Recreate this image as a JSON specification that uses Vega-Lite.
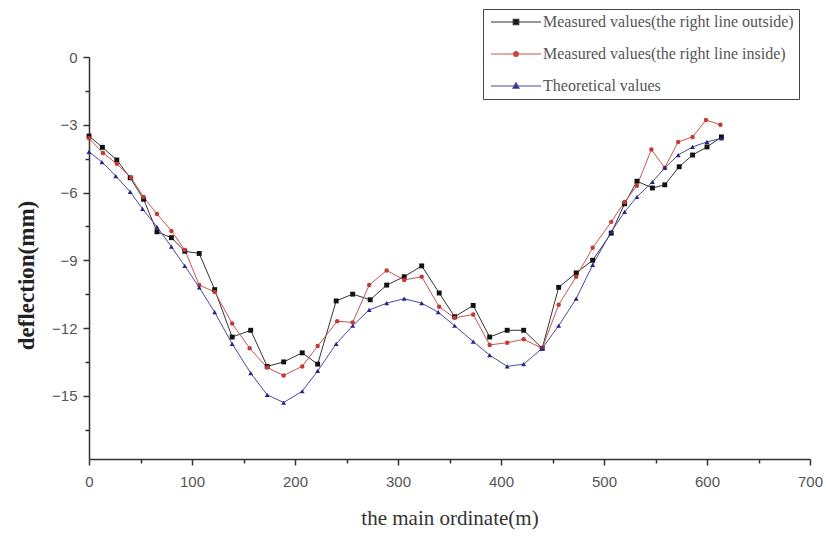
{
  "$schema": "https://vega.github.io/schema/vega-lite/v6.json",
  "width": 721,
  "height": 402,
  "autosize": {"type": "none"},
  "padding": {"left": 89, "top": 57, "right": 16, "bottom": 80},
  "background": "white",
  "config": {"view": {"stroke": null}},
  "data": {"values": [
    {"s": "outside", "x": 0, "y": -3.5}, {"s": "outside", "x": 13, "y": -4.0}, {"s": "outside", "x": 27, "y": -4.56}, {"s": "outside", "x": 40, "y": -5.35}, {"s": "outside", "x": 53, "y": -6.3},
    {"s": "outside", "x": 66, "y": -7.74}, {"s": "outside", "x": 80, "y": -8.0}, {"s": "outside", "x": 93, "y": -8.6}, {"s": "outside", "x": 107, "y": -8.7}, {"s": "outside", "x": 122, "y": -10.3},
    {"s": "outside", "x": 139, "y": -12.4}, {"s": "outside", "x": 157, "y": -12.1}, {"s": "outside", "x": 173, "y": -13.7}, {"s": "outside", "x": 189, "y": -13.5}, {"s": "outside", "x": 207, "y": -13.1},
    {"s": "outside", "x": 222, "y": -13.6}, {"s": "outside", "x": 240, "y": -10.8}, {"s": "outside", "x": 256, "y": -10.5}, {"s": "outside", "x": 273, "y": -10.75}, {"s": "outside", "x": 289, "y": -10.1},
    {"s": "outside", "x": 306, "y": -9.73}, {"s": "outside", "x": 323, "y": -9.25}, {"s": "outside", "x": 340, "y": -10.45}, {"s": "outside", "x": 355, "y": -11.5}, {"s": "outside", "x": 373, "y": -11.0},
    {"s": "outside", "x": 389, "y": -12.4}, {"s": "outside", "x": 406, "y": -12.1}, {"s": "outside", "x": 422, "y": -12.1}, {"s": "outside", "x": 440, "y": -12.9}, {"s": "outside", "x": 456, "y": -10.2},
    {"s": "outside", "x": 473, "y": -9.56}, {"s": "outside", "x": 489, "y": -9.0}, {"s": "outside", "x": 507, "y": -7.8}, {"s": "outside", "x": 520, "y": -6.5}, {"s": "outside", "x": 532, "y": -5.5},
    {"s": "outside", "x": 547, "y": -5.8}, {"s": "outside", "x": 559, "y": -5.66}, {"s": "outside", "x": 573, "y": -4.86}, {"s": "outside", "x": 586, "y": -4.34}, {"s": "outside", "x": 600, "y": -3.98},
    {"s": "outside", "x": 614, "y": -3.54},
    {"s": "inside", "x": 0, "y": -3.6}, {"s": "inside", "x": 13.6, "y": -4.25}, {"s": "inside", "x": 27, "y": -4.73}, {"s": "inside", "x": 41, "y": -5.35}, {"s": "inside", "x": 53, "y": -6.2},
    {"s": "inside", "x": 66, "y": -6.95}, {"s": "inside", "x": 80, "y": -7.7}, {"s": "inside", "x": 93, "y": -8.54}, {"s": "inside", "x": 107, "y": -10.1}, {"s": "inside", "x": 122, "y": -10.4},
    {"s": "inside", "x": 139, "y": -11.8}, {"s": "inside", "x": 156, "y": -12.9}, {"s": "inside", "x": 173, "y": -13.75}, {"s": "inside", "x": 189, "y": -14.1}, {"s": "inside", "x": 207, "y": -13.7},
    {"s": "inside", "x": 222, "y": -12.8}, {"s": "inside", "x": 241, "y": -11.7}, {"s": "inside", "x": 256, "y": -11.75}, {"s": "inside", "x": 272, "y": -10.1}, {"s": "inside", "x": 289, "y": -9.45},
    {"s": "inside", "x": 306, "y": -9.87}, {"s": "inside", "x": 323, "y": -9.73}, {"s": "inside", "x": 340, "y": -11.06}, {"s": "inside", "x": 355, "y": -11.55}, {"s": "inside", "x": 373, "y": -11.4},
    {"s": "inside", "x": 389, "y": -12.75}, {"s": "inside", "x": 406, "y": -12.65}, {"s": "inside", "x": 422, "y": -12.5}, {"s": "inside", "x": 440, "y": -12.9}, {"s": "inside", "x": 456, "y": -10.97},
    {"s": "inside", "x": 473, "y": -9.73}, {"s": "inside", "x": 489, "y": -8.45}, {"s": "inside", "x": 507, "y": -7.3}, {"s": "inside", "x": 520, "y": -6.42}, {"s": "inside", "x": 532, "y": -5.7},
    {"s": "inside", "x": 546, "y": -4.1}, {"s": "inside", "x": 559, "y": -4.9}, {"s": "inside", "x": 572, "y": -3.76}, {"s": "inside", "x": 586, "y": -3.54}, {"s": "inside", "x": 599, "y": -2.79},
    {"s": "inside", "x": 613, "y": -3.0},
    {"s": "theory", "x": 0, "y": -4.2}, {"s": "theory", "x": 12.6, "y": -4.65}, {"s": "theory", "x": 26, "y": -5.27}, {"s": "theory", "x": 40, "y": -5.97}, {"s": "theory", "x": 52, "y": -6.73},
    {"s": "theory", "x": 66, "y": -7.52}, {"s": "theory", "x": 80, "y": -8.4}, {"s": "theory", "x": 93, "y": -9.25}, {"s": "theory", "x": 107, "y": -10.2}, {"s": "theory", "x": 122, "y": -11.3},
    {"s": "theory", "x": 139, "y": -12.7}, {"s": "theory", "x": 157, "y": -14.0}, {"s": "theory", "x": 173, "y": -14.96}, {"s": "theory", "x": 189, "y": -15.3}, {"s": "theory", "x": 207, "y": -14.8},
    {"s": "theory", "x": 222, "y": -13.9}, {"s": "theory", "x": 240, "y": -12.7}, {"s": "theory", "x": 256, "y": -11.9}, {"s": "theory", "x": 272, "y": -11.2}, {"s": "theory", "x": 289, "y": -10.9},
    {"s": "theory", "x": 306, "y": -10.7}, {"s": "theory", "x": 323, "y": -10.9}, {"s": "theory", "x": 339, "y": -11.3}, {"s": "theory", "x": 355, "y": -11.9}, {"s": "theory", "x": 373, "y": -12.6},
    {"s": "theory", "x": 389, "y": -13.2}, {"s": "theory", "x": 406, "y": -13.7}, {"s": "theory", "x": 422, "y": -13.6}, {"s": "theory", "x": 440, "y": -12.9}, {"s": "theory", "x": 456, "y": -11.9},
    {"s": "theory", "x": 473, "y": -10.7}, {"s": "theory", "x": 489, "y": -9.2}, {"s": "theory", "x": 507, "y": -7.74}, {"s": "theory", "x": 520, "y": -6.86}, {"s": "theory", "x": 532, "y": -6.19},
    {"s": "theory", "x": 547, "y": -5.53}, {"s": "theory", "x": 559, "y": -4.91}, {"s": "theory", "x": 572, "y": -4.34}, {"s": "theory", "x": 586, "y": -3.98}, {"s": "theory", "x": 600, "y": -3.76},
    {"s": "theory", "x": 614, "y": -3.6}
  ]},
  "encoding": {
    "x": {
      "field": "x", "type": "quantitative",
      "scale": {"domain": [0, 700], "nice": false, "zero": false},
      "axis": {
        "title": "the main ordinate(m)",
        "titleFont": "Liberation Serif", "titleFontSize": 21, "titleFontWeight": "normal", "titleColor": "#333",
        "titlePadding": 18,
        "values": [0, 50, 100, 150, 200, 250, 300, 350, 400, 450, 500, 550, 600, 650, 700],
        "labelExpr": "datum.value % 100 == 0 ? datum.label : ''",
        "labelFont": "Liberation Sans", "labelFontSize": 15, "labelColor": "#555", "labelPadding": 9,
        "labelFlush": false,
        "tickSize": {"condition": {"test": "datum.value % 100 == 0", "value": 6}, "value": 4},
        "tickColor": "#333", "tickWidth": 1.5,
        "domainColor": "#333", "domainWidth": 1.5,
        "grid": false
      }
    },
    "y": {
      "field": "y", "type": "quantitative",
      "scale": {"domain": [-17.8, 0], "nice": false, "zero": false},
      "axis": {
        "title": "deflection(mm)",
        "titleFont": "Liberation Serif", "titleFontSize": 23, "titleFontWeight": "bold", "titleColor": "#222",
        "titlePadding": 13,
        "titleY": 218,
        "values": [0, -1.5, -3, -4.5, -6, -7.5, -9, -10.5, -12, -13.5, -15, -16.5],
        "labelExpr": "datum.value % 3 == 0 ? datum.label : ''",
        "labelFont": "Liberation Sans", "labelFontSize": 15, "labelColor": "#555", "labelPadding": 6,
        "labelFlush": false,
        "tickSize": {"condition": {"test": "datum.value % 3 == 0", "value": 6}, "value": 4},
        "tickColor": "#333", "tickWidth": 1.5,
        "domainColor": "#333", "domainWidth": 1.5,
        "grid": false
      }
    }
  },
  "layer": [
    {
      "mark": {"type": "line", "strokeWidth": 1},
      "encoding": {
        "detail": {"field": "s"},
        "stroke": {
          "field": "s", "type": "nominal",
          "scale": {"domain": ["outside", "inside", "theory"], "range": ["#333333", "#c8554f", "#4b4b9c"]},
          "legend": {
            "orient": "none", "legendX": 394, "legendY": -48,
            "title": null,
            "direction": "vertical",
            "labelExpr": "datum.value == 'outside' ? 'Measured values(the right line outside)' : datum.value == 'inside' ? 'Measured values(the right line inside)' : 'Theoretical values'",
            "labelFont": "Liberation Serif", "labelFontSize": 16, "labelColor": "#555",
            "labelLimit": 400,
            "strokeColor": "#444", "fillColor": "white",
            "padding": 5,
            "rowPadding": 16,
            "symbolSize": 100,
            "symbolOffset": 20,
            "labelOffset": 19,
            "symbolStrokeWidth": 1.2,
            "encode": {
              "symbols": {
                "update": {
                  "shape": {"signal": "datum.value == 'outside' ? 'M-5,0H5M-0.55,-0.55H0.55V0.55H-0.55Z' : datum.value == 'inside' ? 'M-5,0H5M0.5,0A0.5,0.5 0 1,1 -0.5,0A0.5,0.5 0 1,1 0.5,0Z' : 'M-5,0H5M0,-0.65L0.6,0.45H-0.6Z'"},
                  "fill": {"signal": "datum.value == 'outside' ? '#111111' : datum.value == 'inside' ? '#c43a34' : '#24248f'"},
                  "fillOpacity": {"value": 1},
                  "strokeWidth": {"value": 1.2},
                  "size": {"value": 100}
                }
              }
            }
          }
        }
      }
    },
    {
      "transform": [{"filter": "datum.s == 'outside'"}],
      "mark": {"type": "point", "filled": true, "opacity": 1, "size": 24, "shape": "square", "color": "#111111"},
      "encoding": {}
    },
    {
      "transform": [{"filter": "datum.s == 'inside'"}],
      "mark": {"type": "point", "filled": true, "opacity": 1, "size": 20, "shape": "circle", "color": "#c43a34"},
      "encoding": {}
    },
    {
      "transform": [{"filter": "datum.s == 'theory'"}],
      "mark": {"type": "point", "filled": true, "opacity": 1, "size": 24, "shape": "triangle-up", "color": "#24248f"},
      "encoding": {}
    }
  ]
}
